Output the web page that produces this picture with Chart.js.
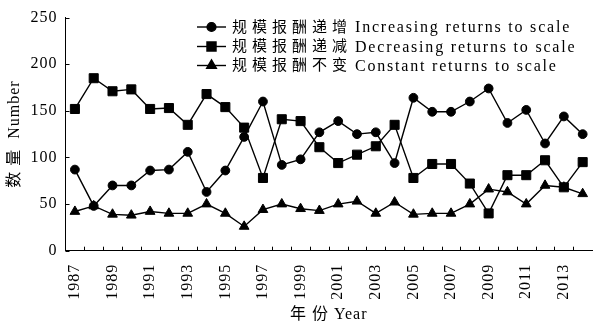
<!DOCTYPE html>
<html>
<head>
<meta charset="utf-8">
<script src="https://cdn.jsdelivr.net/npm/chart.js@4/dist/chart.umd.min.js"></script>
<style>
html, body { margin: 0; padding: 0; background: #fff; overflow: hidden; }
#wrap { width: 615px; height: 326px; }
</style>
</head>
<body>
<div id="wrap"><canvas id="chart" width="615" height="326"></canvas></div>
<script>
// Years on the x axis
var years = ['1987', '1988', '1989', '1990', '1991', '1992', '1993', '1994', '1995', '1996',
             '1997', '1998', '1999', '2000', '2001', '2002', '2003', '2004', '2005', '2006',
             '2007', '2008', '2009', '2010', '2011', '2012', '2013', '2014'];

// Only every other year gets a label
var year_labels = ['1987', '1989', '1991', '1993', '1995', '1997', '1999',
                   '2001', '2003', '2005', '2007', '2009', '2011', '2013'];

var y_ticks = [0, 50, 100, 150, 200, 250];

// Counts per year
var increasing = [87, 48, 70, 70, 86, 87, 106, 63, 86, 122, 160, 92, 98, 127,
                  139, 125, 127, 94, 164, 149, 149, 160, 174, 137, 151, 115, 144, 125];
var decreasing = [152, 185, 171, 173, 152, 153, 135, 168, 154, 132, 78, 141, 139, 111,
                  94, 103, 112, 135, 78, 93, 93, 72, 40, 81, 81, 97, 68, 95];
var constant = [42, 48, 39, 38, 42, 40, 40, 50, 40, 26, 44, 50, 45, 43,
                50, 53, 40, 52, 39, 40, 40, 50, 66, 63, 50, 70, 68, 61];

var names_zh = ['规模报酬递增', '规模报酬递减', '规模报酬不变'];
var names_en = ['Increasing returns to scale', 'Decreasing returns to scale', 'Constant returns to scale'];

const font_family = '"Liberation Serif", "Times New Roman", "Noto Sans CJK SC", serif';


function make_dataset(i, values, style, radius) {
    return {
        label: names_zh[i] + names_en[i],
        data: values,
        borderColor: '#000',
        backgroundColor: '#000',
        borderWidth: 1.4,
        pointStyle: style,
        pointRadius: radius,
        pointHoverRadius: radius,
        pointBackgroundColor: '#000',
        pointBorderColor: '#000',
        pointBorderWidth: 1,
        tension: 0
    };
}


// Short ticks pointing into the plot, plus the legend box
const frame_plugin = {
    id: 'frame',
    beforeDraw(chart) {
        chart.ctx.letterSpacing = '1px';
    },
    afterDraw(chart) {
        const ctx = chart.ctx;
        const area = chart.chartArea;
        const x = chart.scales.x;
        const y = chart.scales.y;

        ctx.save();
        ctx.strokeStyle = '#000';
        ctx.lineWidth = 1;
        ctx.beginPath();

        // y ticks
        y_ticks.forEach(v => {
            const py = Math.round(y.getPixelForValue(v)) + 0.5;
            ctx.moveTo(area.left, py);
            ctx.lineTo(area.left + 4, py);
        });

        // x ticks between the years
        const step = x.getPixelForValue(1) - x.getPixelForValue(0);
        for (var i = 1; i < years.length; i++) {
            const px = Math.round(x.getPixelForValue(i) - step / 2) + 0.5;
            ctx.moveTo(px, area.bottom);
            ctx.lineTo(px, area.bottom - 4);
        }
        ctx.stroke();

        // legend
        const rows = [27, 46.5, 65.5];
        chart.data.datasets.forEach((ds, i) => {
            const ry = rows[i];
            ctx.strokeStyle = '#000';
            ctx.lineWidth = 1.4;
            ctx.beginPath();
            ctx.moveTo(197, ry);
            ctx.lineTo(226, ry);
            ctx.stroke();

            ctx.fillStyle = '#000';
            Chart.helpers.drawPoint(ctx, {
                pointStyle: ds.pointStyle,
                radius: ds.pointRadius,
                rotation: 0,
                borderWidth: 1
            }, 211.5, ry);

            ctx.fillStyle = '#000';
            ctx.textBaseline = 'middle';
            ctx.textAlign = 'left';
            ctx.font = '15px ' + font_family;
            ctx.letterSpacing = '5px';
            ctx.fillText(names_zh[i], 232, ry + 1);
            const w = ctx.measureText(names_zh[i]).width;
            ctx.font = '16px ' + font_family;
            ctx.letterSpacing = '1.8px';
            ctx.fillText(names_en[i], 232 + w + 3, ry + 1);
        });
        ctx.restore();
    }
};


document.addEventListener('DOMContentLoaded', () => {

    const ctx = document.getElementById('chart');

    new Chart(ctx, {
        type: 'line',
        data: {
            labels: years,
            datasets: [
                make_dataset(0, increasing, 'circle', 4.4),
                make_dataset(1, decreasing, 'rect', 6.4),
                make_dataset(2, constant, 'triangle', 5.6)
            ]
        },
        options: {
            responsive: false,
            animation: false,
            devicePixelRatio: 1,
            layout: {
                padding: { left: 0, top: 17.5, right: 1, bottom: 0 }
            },
            plugins: {
                legend: { display: false },
                tooltip: { enabled: false }
            },
            scales: {
                x: {
                    type: 'category',
                    offset: true,
                    afterFit(scale) {
                        scale.height = 75.3;
                    },
                    grid: {
                        display: true,
                        drawOnChartArea: false,
                        drawTicks: false,
                        color: 'rgba(0,0,0,0)'
                    },
                    border: { display: true, color: '#000', width: 1 },
                    ticks: {
                        autoSkip: false,
                        maxRotation: 90,
                        minRotation: 90,
                        padding: 13,
                        color: '#000',
                        font: { family: font_family, size: 16 },
                        callback: function (val) {
                            const label = this.getLabelForValue(val);
                            return year_labels.includes(label) ? label : '';
                        }
                    },
                    title: {
                        display: true,
                        text: '年 份 Year',
                        color: '#000',
                        font: { family: font_family, size: 16 },
                        padding: { top: 0, bottom: 2 }
                    }
                },
                y: {
                    min: 0,
                    max: 250,
                    afterFit(scale) {
                        scale.width = 65.5;
                    },
                    afterBuildTicks(scale) {
                        scale.ticks = y_ticks.map(v => ({ value: v }));
                    },
                    grid: {
                        display: true,
                        drawOnChartArea: false,
                        drawTicks: false,
                        color: 'rgba(0,0,0,0)'
                    },
                    border: { display: true, color: '#000', width: 1 },
                    ticks: {
                        padding: 8,
                        color: '#000',
                        font: { family: font_family, size: 16 }
                    },
                    title: {
                        display: true,
                        text: '数 量  Number',
                        color: '#000',
                        font: { family: font_family, size: 16 },
                        padding: { top: 5, bottom: 0 }
                    }
                }
            }
        },
        plugins: [frame_plugin]
    });
});
</script>
</body>
</html>
